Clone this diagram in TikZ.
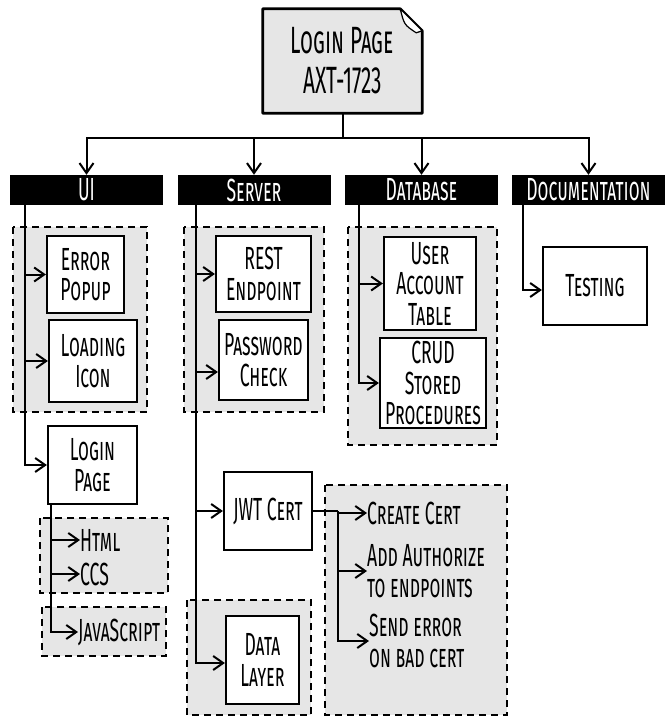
\documentclass[tikz,border=0pt]{standalone}
\usepackage{fontspec}
\setmainfont[FakeStretch=0.55]{Fira Sans}
\usetikzlibrary{arrows.meta,backgrounds}
\definecolor{panel}{HTML}{E6E6E6}
\newcommand\lblfont{\fontsize{32}{30.5}\selectfont\scshape}
\newcommand\hdrfont{\fontsize{32}{30.5}\selectfont\scshape}
\newcommand\ttlfont{\fontsize{38}{40}\selectfont\scshape}
\tikzset{
  box/.style={draw, line width=2.2pt, fill=white, align=center, inner sep=0pt, font=\lblfont},
  hdr/.style={fill=black, text=white, inner sep=0pt, minimum width=153pt, minimum height=30pt, font=\hdrfont},
  grp/.style={fill=panel, draw, line width=1.9pt, dash pattern=on 7pt off 5pt},
  leaf/.style={anchor=west, inner sep=0pt, align=left, font=\lblfont},
  arr/.style={line width=2pt, -{Straight Barb[length=10pt,width=14pt,line width=2pt]}},
  wire/.style={line width=2pt},
}
\begin{document}
\begin{tikzpicture}[x=1pt,y=-1pt]
\useasboundingbox (0,0) rectangle (665,717);

% dashed panels grouping related items
\draw[grp] (13,227) rectangle (147,412);
\draw[grp] (184,227) rectangle (324,412);
\draw[grp] (348,227) rectangle (497,445);
\draw[grp] (40,518) rectangle (168,593);
\draw[grp] (42,607) rectangle (166,656);
\draw[grp] (187,600) rectangle (311,715);
\draw[grp] (325,485) rectangle (507,715);

% root ticket
\node[align=center, inner sep=0pt, minimum width=159pt, minimum height=104pt, font=\ttlfont] (title) at (342.5,61) {Login Page\\AXT-1723};
\begin{scope}[on background layer]
  \draw[line width=2.8pt, fill=panel, line join=round]
    (title.north west) -- ([xshift=-22pt]title.north east)
    -- ([yshift=-22pt]title.north east) -- (title.south east)
    -- (title.south west) -- cycle;
  \draw[line width=1.2pt, fill=white, line join=round]
    ([xshift=-22pt]title.north east) .. controls ([xshift=-18pt,yshift=-16pt]title.north east) .. ([xshift=-6pt,yshift=-24pt]title.north east)
    -- ([yshift=-22pt]title.north east) -- cycle;
\end{scope}

% column headers
\node[hdr] (ui)  at (86.5,190) {UI};
\node[hdr] (srv) at (254,190) {Server};
\node[hdr] (db)  at (421.5,190) {Database};
\node[hdr] (doc) at (588.5,190) {Documentation};

\draw[wire] (title.south) -- ++(0,25) coordinate (bus);
\draw[arr] (bus) -| (ui.north);
\draw[arr] (bus) -| (srv.north);
\draw[arr] (bus) -| (db.north);
\draw[arr] (bus) -| (doc.north);

% UI column
\node[box, minimum width=77pt, minimum height=77pt] (err) at (85.5,274.5) {Error\\Popup};
\node[box, minimum width=88pt, minimum height=82pt] (load) at (93,361) {Loading\\Icon};
\node[box, minimum width=89pt, minimum height=78pt] (login) at (92.5,465) {Login\\Page};
\draw[arr] ([xshift=15pt]ui.south west) |- (err.west);
\draw[arr] ([xshift=15pt]ui.south west) |- (load.west);
\draw[arr] ([xshift=15pt]ui.south west) |- (login.west);

\node[leaf] (html) at (80,540) {Html};
\node[leaf] (css)  at (80,574) {CCS};
\node[leaf] (js)   at (78,632) {JavaScript};
\draw[arr] ([xshift=4pt]login.south west) |- (html.west);
\draw[arr] ([xshift=4pt]login.south west) |- (css.west);
\draw[arr] ([xshift=4pt]login.south west) |- (js.west);

% Server column
\node[box, minimum width=95pt, minimum height=76pt] (rest) at (263.5,274) {REST\\Endpoint};
\node[box, minimum width=89pt, minimum height=80pt] (pwd)  at (263.5,360) {Password\\Check};
\node[box, minimum width=88pt, minimum height=78pt] (jwt)  at (268,511) {JWT Cert};
\node[box, minimum width=73pt, minimum height=88pt] (dal)  at (262.5,660) {Data\\Layer};
\draw[arr] ([xshift=19pt]srv.south west) |- (rest.west);
\draw[arr] ([xshift=19pt]srv.south west) |- ([yshift=-12pt]pwd.west);
\draw[arr] ([xshift=19pt]srv.south west) |- (jwt.west);
\draw[arr] ([xshift=19pt]srv.south west) |- ([yshift=-3pt]dal.west);

% JWT follow-up tasks
\node[leaf] (mk)   at (367,513) {Create Cert};
\node[leaf] (auth) at (367,571) {Add Authorize\\to endpoints};
\node[leaf] (bad)  at (369,641) {Send error\\on bad cert};
\draw[wire] (jwt.east) -- ++(25,0) coordinate (jb);
\draw[arr] (jb) |- (mk.west);
\draw[arr] (jb) |- (auth.west);
\draw[arr] (jb) |- (bad.west);

% Database column
\node[box, minimum width=92pt, minimum height=93pt] (acct) at (430,283.5) {User\\Account\\Table};
\node[box, minimum width=106pt, minimum height=90pt] (crud) at (433,383) {CRUD\\Stored\\Procedures};
\draw[arr] ([xshift=14pt]db.south west) |- (acct.west);
\draw[arr] ([xshift=14pt]db.south west) |- (crud.west);

% Documentation column
\node[box, minimum width=104pt, minimum height=78pt] (test) at (595,286) {Testing};
\draw[arr] ([xshift=11pt]doc.south west) |- ([yshift=-4pt]test.west);
\end{tikzpicture}
\end{document}
